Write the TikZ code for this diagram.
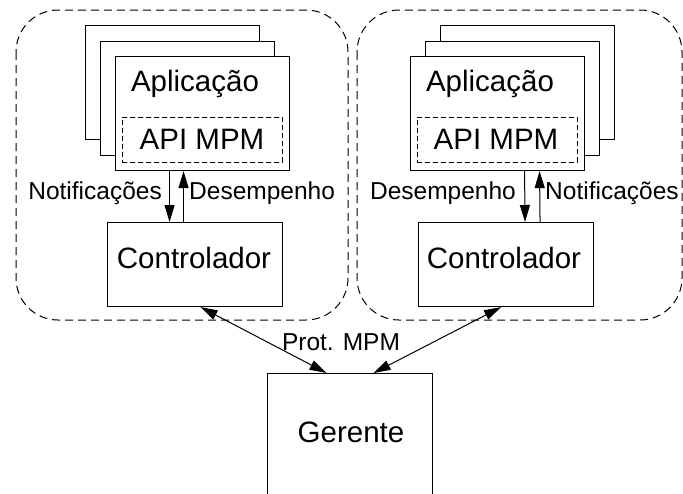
\documentclass[tikz,border=0pt]{standalone}
\usepackage{fontspec}
\setmainfont{Liberation Sans}
\usetikzlibrary{arrows.meta}
\begin{document}
\begin{tikzpicture}[x=1pt,y=-1pt,
  appbox/.style={draw,line width=1.1pt,fill=white,anchor=north west,inner sep=0pt,minimum width=174pt,minimum height=114pt},
  apibox/.style={draw,dash pattern=on 5pt off 3pt,line width=0.9pt,anchor=north west,inner sep=0pt,minimum width=160pt,minimum height=45pt},
  ctlbox/.style={draw,line width=1.1pt,anchor=north west,inner sep=0pt,minimum width=175pt,minimum height=84pt},
  grpbox/.style={draw,dash pattern=on 8pt off 5pt,line width=1pt,rounded corners=42pt},
  big/.style={font=\fontsize{29.5}{30}\selectfont,inner sep=0pt},
  small/.style={font=\fontsize{24.5}{25}\selectfont,inner sep=0pt},
  arr/.style={line width=1pt,-{Triangle[length=17pt,width=10pt]}},
  darr/.style={line width=1pt,{Triangle[length=17pt,width=10pt]}-{Triangle[length=17pt,width=10pt]}}]
\useasboundingbox (0,0) rectangle (683,493);
\clip (0,0) rectangle (683,493);
% group outlines
\draw[grpbox] (16,10) rectangle (348,320);
\draw[grpbox] (357,10) rectangle (682,320);
% left stack
\node[appbox] (bL) at (85,25) {};
\node[appbox] (mL) at (100,41) {};
\node[appbox] (fL) at (115,56) {};
\node[big] (aL) at (195,84) {Aplicação};
\node[apibox] (iL) at (122,117) {};
\node[big] (pL) at (202,139) {API MPM};
\node[ctlbox] (cL) at (107,222) {};
\node[big] (tL) at (194,258) {Controlador};
% right stack
\node[appbox] (bR) at (440,25) {};
\node[appbox] (mR) at (425,41) {};
\node[appbox] (fR) at (410,56) {};
\node[big] (aR) at (490,84) {Aplicação};
\node[apibox] (iR) at (417,117) {};
\node[big] (pR) at (496,139) {API MPM};
\node[ctlbox] (cR) at (418,222) {};
\node[big] (tR) at (504,258) {Controlador};
% manager
\node[draw,line width=1.1pt,anchor=north west,inner sep=0pt,minimum width=165pt,minimum height=150pt] (g) at (267,373) {};
\node[big] (gt) at (351,432) {Gerente};
% left vertical arrows
\draw[arr] ([xshift=-33pt]fL.south) -- ([xshift=-25.5pt]cL.north);
\draw[arr] ([xshift=-11.5pt]cL.north) -- ([xshift=-19pt]fL.south);
\node[small,anchor=east] (nL) at (162,193) {Notificações};
\node[small,anchor=west] (dL) at (189,193) {Desempenho};
% right vertical arrows
\draw[arr] ([xshift=27pt]fR.south) -- ([xshift=19pt]cR.north);
\draw[arr] ([xshift=34pt]cR.north) -- ([xshift=42pt]fR.south);
\node[small,anchor=east] (dR) at (516,193) {Desempenho};
\node[small,anchor=west] (nR) at (545,193) {Notificações};
% protocol arrows
\draw[darr] ([xshift=5.5pt]cL.south) -- ([xshift=-23.5pt]g.north);
\draw[darr] ([xshift=-5pt]cR.south) -- ([xshift=23.5pt]g.north);
\node[small] (pm) at (341,342) {Prot. MPM};
\end{tikzpicture}
\end{document}
